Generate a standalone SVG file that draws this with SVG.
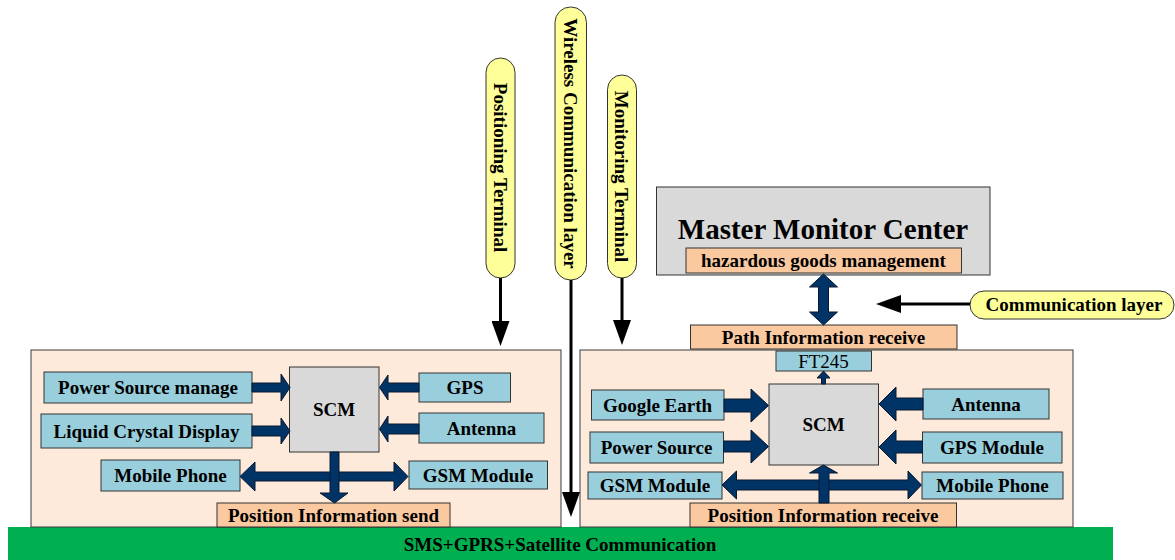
<svg xmlns="http://www.w3.org/2000/svg" width="1175" height="560" viewBox="0 0 1175 560">
<defs>
<style>
text{font-family:"Liberation Serif","Times New Roman",serif;font-weight:bold;font-size:19px;fill:#000;text-anchor:middle}
.panel{fill:#fdeada;stroke:#3a3a3a;stroke-width:1}
.blue{fill:#99cfdd;stroke:#333;stroke-width:1}
.peach{fill:#fbc9a0;stroke:#333;stroke-width:1}
.gray{fill:#d9d9d9;stroke:#333;stroke-width:1}
.pill{fill:#ffff99;stroke:#333;stroke-width:1}
.fat{fill:#003366;stroke:#0b1a2e;stroke-width:1}
.line{stroke:#000;stroke-width:3;fill:none;marker-end:url(#ah)}
</style>
<marker id="ah" viewBox="0 0 25 18" refX="0" refY="9" markerWidth="25" markerHeight="18" markerUnits="userSpaceOnUse" orient="auto">
<path d="M0,0 L25,9 L0,18 Z" fill="#000"/>
</marker>
</defs>
<rect width="1175" height="560" fill="#fff"/>

<g id="comm-bar">
<rect x="8" y="527" width="1105" height="33" fill="#00b050"/>
<text x="560" y="551">SMS+GPRS+Satellite Communication</text>
</g>

<g id="positioning-panel"><rect class="panel" x="31" y="350" width="530" height="177"/></g>
<g id="monitoring-panel"><rect class="panel" x="580" y="350" width="493" height="177"/></g>

<g id="master-monitor-center">
<rect class="gray" x="656.5" y="187" width="333.5" height="88"/>
<text x="823" y="239" style="font-size:29px">Master Monitor Center</text>
</g>
<g id="hazardous-goods"><rect class="peach" x="686" y="248" width="275.5" height="25"/><text x="823.5" y="267">hazardous goods management</text></g>
<g id="path-info"><rect class="peach" x="690.5" y="325" width="266.5" height="24"/><text x="823.5" y="344">Path Information receive</text></g>
<g id="ft245"><rect class="blue" x="776" y="351" width="95.5" height="20"/><text x="823.5" y="368" style="font-weight:normal">FT245</text></g>

<g id="pill-positioning"><rect class="pill" x="486" y="58" width="29" height="220" rx="14.5"/><text transform="translate(500.5,167.5) rotate(90)" dy="0.35em">Positioning Terminal</text></g>
<g id="pill-wireless"><rect class="pill" x="555" y="7" width="31.5" height="273" rx="15.5"/><text transform="translate(571,143.5) rotate(90)" dy="0.35em">Wireless Communication layer</text></g>
<g id="pill-monitoring"><rect class="pill" x="607.5" y="75" width="29" height="203" rx="14.5"/><text transform="translate(622,176.5) rotate(90)" dy="0.35em">Monitoring Terminal</text></g>
<g id="pill-communication"><rect class="pill" x="970" y="291" width="204" height="28" rx="14"/><text x="1074" y="311">Communication layer</text></g>

<g id="left-nodes">
<g id="l-power"><rect class="blue" x="44" y="372" width="208" height="31"/><text x="148" y="394">Power Source manage</text></g>
<g id="l-lcd"><rect class="blue" x="41" y="414" width="211" height="34"/><text x="146.5" y="438">Liquid Crystal Display</text></g>
<g id="l-scm"><rect class="gray" x="289.5" y="367" width="89.5" height="85"/><text x="334" y="416">SCM</text></g>
<g id="l-gps"><rect class="blue" x="419" y="373" width="91.5" height="29"/><text x="465" y="394">GPS</text></g>
<g id="l-antenna"><rect class="blue" x="419" y="413" width="125" height="30"/><text x="481.5" y="435">Antenna</text></g>
<g id="l-mobile"><rect class="blue" x="101" y="460" width="139" height="31"/><text x="170.5" y="482">Mobile Phone</text></g>
<g id="l-gsm"><rect class="blue" x="409" y="461" width="138.5" height="28"/><text x="478" y="482">GSM Module</text></g>
<g id="l-posinfo"><rect class="peach" x="217" y="503" width="233" height="24"/><text x="333.5" y="522">Position Information send</text></g>
</g>

<g id="right-nodes">
<g id="r-scm"><rect class="gray" x="769" y="384" width="109.5" height="81"/><text x="823.5" y="431">SCM</text></g>
<g id="r-google"><rect class="blue" x="591.5" y="390" width="132.5" height="30"/><text x="657.5" y="412">Google Earth</text></g>
<g id="r-power"><rect class="blue" x="590" y="432" width="133.5" height="31"/><text x="656.5" y="454">Power Source</text></g>
<g id="r-gsm"><rect class="blue" x="588" y="472" width="134" height="27"/><text x="655" y="492">GSM Module</text></g>
<g id="r-antenna"><rect class="blue" x="923" y="389" width="126" height="30"/><text x="986" y="411">Antenna</text></g>
<g id="r-gps"><rect class="blue" x="922.5" y="432" width="139.5" height="31"/><text x="992" y="454">GPS Module</text></g>
<g id="r-mobile"><rect class="blue" x="922" y="472" width="141" height="27"/><text x="992.5" y="492">Mobile Phone</text></g>
<g id="r-posinfo"><rect class="peach" x="690" y="503" width="266.5" height="24"/><text x="823" y="522">Position Information receive</text></g>
</g>

<g id="connectors">
<line class="line" x1="500.5" y1="278" x2="500.5" y2="321"/>
<line class="line" x1="622" y1="278" x2="622" y2="320"/>
<line class="line" x1="571" y1="280" x2="571" y2="492"/>
<line class="line" x1="970" y1="304" x2="901" y2="304"/>

<path class="fat" d="M252,383 H281 V374 L290,387.5 L281,401 V392 H252 Z"/>
<path class="fat" d="M252,426 H281 V418 L290,431 L281,444 V436 H252 Z"/>
<path class="fat" d="M419,383 H388 V375 L379.5,387.5 L388,400 V392 H419 Z"/>
<path class="fat" d="M419,424 H388 V416 L379.5,429 L388,442 V434 H419 Z"/>
<path class="fat" d="M240,476.5 L255,462 V472 H394 V462 L408,476.5 L394,491 V481 H255 V491 Z"/>
<path class="fat" d="M330,452 H339 V493 H348 L334.5,503 L320,493 H330 Z"/>

<path class="fat" d="M724,399 H751 V389 L768.5,405.5 L751,422 V412 H724 Z"/>
<path class="fat" d="M723.5,441 H751 V430 L768.5,446.5 L751,463 V452 H723.5 Z"/>
<path class="fat" d="M923,398 H896 V387 L879,404 L896,421 V410 H923 Z"/>
<path class="fat" d="M922.5,441 H896 V430 L879,447 L896,464 V453 H922.5 Z"/>
<path class="fat" d="M722,485 L736.5,471 V480 H908 V471 L921.5,485 L908,499 V490 H736.5 V499 Z"/>
<path class="fat" d="M819,503 V473 H809.5 L823.5,465 L837.5,473 H829 V503 Z"/>
<path class="fat" d="M821.5,384 V378 H817 L823.5,371 L830,378 H825.5 V384 Z"/>
<path class="fat" d="M823.5,274 L837.5,287 H828.5 V312 H837.5 L823.5,325 L809.5,312 H818.5 V287 H809.5 Z"/>
</g>
</svg>
